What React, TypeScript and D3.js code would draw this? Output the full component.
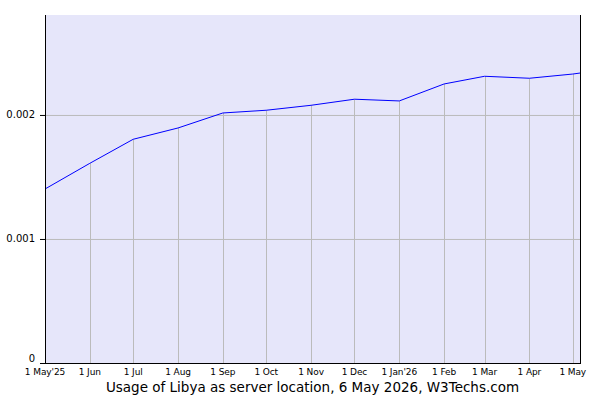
import React from "react";
import * as d3 from "d3";

const dates = [
  "2025-05-01", "2025-06-01", "2025-07-01", "2025-08-01", "2025-09-01", "2025-10-01",
  "2025-11-01", "2025-12-01", "2026-01-01", "2026-02-01", "2026-03-01", "2026-04-01",
  "2026-05-01", "2026-05-06",
];
const values = [
  0.001403, 0.00161, 0.001804, 0.001895, 0.002016, 0.002038,
  0.002078, 0.002127, 0.002113, 0.00225, 0.002312, 0.002296,
  0.00233, 0.002338,
];
const monthLabels = [
  "1 May'25", "1 Jun", "1 Jul", "1 Aug", "1 Sep", "1 Oct", "1 Nov",
  "1 Dec", "1 Jan'26", "1 Feb", "1 Mar", "1 Apr", "1 May",
];
const yTicks = [0, 0.001, 0.002];
const yTickLabels = ["0", "0.001", "0.002"];
const title = "Usage of Libya as server location, 6 May 2026, W3Techs.com";

const W = 600;
const H = 400;
const M = { left: 45, right: 20, top: 15, bottom: 37 };

export default function App() {
  const parse = d3.utcParse("%Y-%m-%d");
  const pts = dates.map((d, i) => ({ date: parse(d) as Date, value: values[i] }));
  const x = d3
    .scaleUtc()
    .domain([pts[0].date, pts[pts.length - 1].date])
    .range([M.left, W - M.right]);
  const y = d3.scaleLinear().domain([0, 0.002806]).range([H - M.bottom, M.top]);
  const line = d3
    .line<{ date: Date; value: number }>()
    .x((d) => x(d.date))
    .y((d) => y(d.value));
  const monthPts = pts.slice(0, monthLabels.length);
  const font = "'DejaVu Sans', Verdana, sans-serif";
  const x0 = M.left;
  const x1 = W - M.right;
  const yb = y(0);
  return (
    <svg
      width={W}
      height={H}
      style={{ position: "absolute", left: 0, top: 0, background: "#fff" }}
    >
      <rect x={x0} y={M.top} width={x1 - x0} height={yb - M.top} fill="#e6e6fa" />
      {yTicks.slice(1).map((t) => (
        <line key={t} x1={x0} x2={x1} y1={y(t) + 0.5} y2={y(t) + 0.5} stroke="#bbbbbb" strokeWidth={1} />
      ))}
      {monthPts.map((p, i) => (
        <line
          key={i}
          x1={Math.round(x(p.date)) + 0.5}
          x2={Math.round(x(p.date)) + 0.5}
          y1={yb}
          y2={y(p.value)}
          stroke="#bbbbbb"
          strokeWidth={1}
        />
      ))}
      <path d={line(pts) || ""} fill="none" stroke="#0000ff" strokeWidth={1} />
      <line x1={x0 + 0.5} x2={x0 + 0.5} y1={M.top} y2={yb} stroke="#000" />
      <line x1={x1 + 0.5} x2={x1 + 0.5} y1={M.top} y2={yb} stroke="#000" />
      <line x1={x0} x2={x1 + 1} y1={yb + 0.5} y2={yb + 0.5} stroke="#000" />
      {yTicks.map((t, i) => (
        <g key={t}>
          <line x1={x0 - 5} x2={x0} y1={y(t) + 0.5} y2={y(t) + 0.5} stroke="#000" />
          <text
            x={x0 - 10}
            y={t === 0 ? y(t) - 5 : y(t)}
            textAnchor="end"
            dominantBaseline="central"
            fontFamily={font}
            fontSize={10}
            fill="#000"
          >
            {yTickLabels[i]}
          </text>
        </g>
      ))}
      {monthPts.map((p, i) => (
        <text
          key={i}
          x={x(p.date)}
          y={yb + 12}
          textAnchor="middle"
          fontFamily={font}
          fontSize={9}
          letterSpacing={-0.1}
          fill="#000"
        >
          {monthLabels[i]}
        </text>
      ))}
      <text
        x={(x0 + x1) / 2}
        y={H - 8}
        textAnchor="middle"
        fontFamily={font}
        fontSize={13.5}
        fill="#000"
      >
        {title}
      </text>
    </svg>
  );
}
